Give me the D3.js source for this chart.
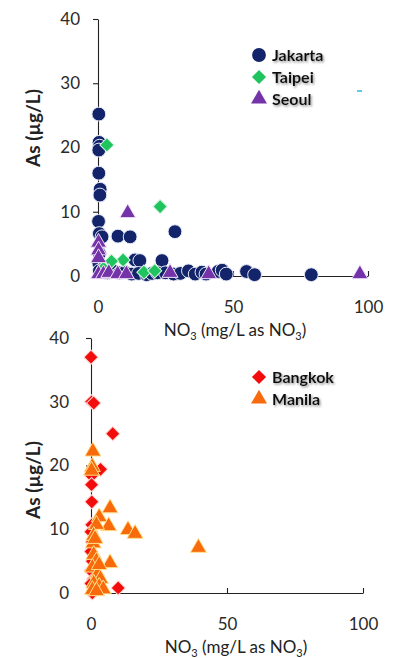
<!DOCTYPE html>
<html>
<head>
<meta charset="utf-8">
<script src="https://cdn.jsdelivr.net/npm/d3@7"></script>
<style>
  html, body { margin: 0; padding: 0; background: #fff; }
  svg { display: block; font-family: Lato, "Open Sans", sans-serif; }
  .tick text { fill: #2a2a2a; font-size: 17px; }
  .legend text { font-weight: 700; font-size: 16px; fill: #111; }
</style>
</head>
<body>
<svg id="chart" width="397" height="658"></svg>
<script>
// ---- Upper panel: Jakarta, Taipei, Seoul (NO3 mg/L, As µg/L) ----
const jakartaNO3 = [0.3, 0.4, 0.6, 0.3, 0.3, 0.8, 0.7, 0.2, 0.5, 1.5, 7.4, 11.9, 28.5, 13.7, 15.5, 23.7, 0.3, 2.2, 0.5, 0.5, 3.5, 5, 8, 10, 12.5, 15, 18, 20, 22, 25, 28, 30.5, 33.5, 36, 38.5, 40, 44.5, 46, 47.5, 55, 58, 79];
const jakartaAs  = [25.2, 20.8, 20.2, 19.6, 16, 13.5, 12.6, 8.5, 6.6, 6.1, 6.2, 6.1, 6.9, 2.5, 2.4, 2.4, 2, 1.3, 3.5, 0.8, 0.5, 1, 0.5, 0.6, 0.3, 0.4, 0.2, 0.4, 0.5, 0.5, 0.3, 0.4, 0.8, 0.3, 0.6, 0.3, 0.7, 0.9, 0.3, 0.7, 0.2, 0.2];
const taipeiNO3  = [3.3, 23, 9.3, 5, 2, 17, 21];
const taipeiAs   = [20.4, 10.8, 2.5, 2.3, 1.2, 0.6, 0.8];
const seoulNO3   = [11, 0.2, 0.2, 0.2, 0.2, 2, 4, 7.3, 10.5, 26.7, 41, 97];
const seoulAs    = [9.8, 5.2, 4, 2.8, 0.3, 0.3, 0.5, 0.3, 0.3, 0.5, 0.3, 0.3];

// ---- Lower panel: Bangkok, Manila ----
const bangkokNO3 = [0, 0.2, 1, 8, 3.5, 0.2, 0.2, 0.3, 0.3, 0, 0.5, 0, 0.5, 0, 1, 0, 10, 0.5];
const bangkokAs  = [37, 30, 29.8, 25, 19.4, 18.4, 17, 14.3, 10.7, 9.6, 8, 6.5, 5, 3.5, 2.2, 1.5, 0.8, 0];
const manilaNO3  = [0.7, 0.5, 0.2, 7, 3, 6.5, 13.6, 16.2, 39.5, 7, 2, 1, 0.8, 1, 2, 0.5, 2.5, 3.5, 1, 3, 0.5, 4.5, 1.5, 3, 2];
const manilaAs   = [22.2, 19.8, 19.2, 13.3, 11.9, 10.5, 9.9, 9.3, 7.1, 4.7, 10.7, 9, 7.8, 6, 5, 4, 3, 2.2, 1.5, 1, 0.5, 0.6, 8.5, 4.4, 0.3];

const xTicks = [0, 50, 100];
const yTicks = [0, 10, 20, 30, 40];

const svg = d3.select("#chart");

// soft text shadow used by the legend labels
const defs = svg.append("defs");
const sh = defs.append("filter").attr("id", "shadow").attr("x", "-20%").attr("y", "-30%").attr("width", "150%").attr("height", "170%");
sh.append("feDropShadow").attr("dx", 1.2).attr("dy", 1.5).attr("stdDeviation", 1.1).attr("flood-color", "#777").attr("flood-opacity", 0.8);

const diamond = d3.symbol().type(d3.symbolSquare).size(100)();
const circle = d3.symbol().type(d3.symbolCircle).size(150)();
const triangle = d3.symbol().type(d3.symbolTriangle).size(110)();

const styles = {
  Jakarta: { path: circle, fill: "#13246a", stroke: "#e8ecf6", rot: 0 },
  Taipei:  { path: diamond, fill: "#1fc45e", stroke: "#d8f5e2", rot: 45 },
  Seoul:   { path: triangle, fill: "#7433a8", stroke: "#efe3f8", rot: 0 },
  Bangkok: { path: diamond, fill: "#f20c0c", stroke: "#ffd6d0", rot: 45 },
  Manila:  { path: triangle, fill: "#f86a0c", stroke: "#ffe08a", rot: 0 }
};

function panel(cfg) {
  const x = d3.scaleLinear().domain([0, 100]).range(cfg.xRange);
  const y = d3.scaleLinear().domain([0, 40]).range(cfg.yRange);
  const g = svg.append("g");

  // y axis, ticks outward
  const ya = g.append("g").attr("transform", `translate(${x(0)},0)`)
    .call(d3.axisLeft(y).tickValues(yTicks).tickSize(5).tickPadding(cfg.yPad).tickSizeOuter(0));
  // x axis, ticks pointing up into the plot
  const xa = g.append("g").attr("transform", `translate(0,${y(0)})`)
    .call(d3.axisBottom(x).tickValues(xTicks).tickSize(-5).tickPadding(22).tickSizeOuter(0));
  [ya, xa].forEach(a => {
    a.select(".domain").attr("stroke", "#222").attr("stroke-width", 1.1);
    a.selectAll(".tick line").attr("stroke", "#222").attr("stroke-width", 1.1);
    a.selectAll(".tick text").style("font-family", "Lato, sans-serif");
  });
  xa.selectAll(".tick text").attr("dy", "0.32em").attr("y", 10 + 22);

  // axis titles
  const xt = g.append("text").attr("x", cfg.xTitle[0]).attr("y", cfg.xTitle[1])
    .attr("text-anchor", "middle").attr("font-size", 17).attr("fill", "#222");
  xt.append("tspan").text("NO");
  xt.append("tspan").attr("font-size", 11).attr("dy", 4).text("3");
  xt.append("tspan").attr("dy", -4).text(" (mg/L as NO");
  xt.append("tspan").attr("font-size", 11).attr("dy", 4).text("3");
  xt.append("tspan").attr("dy", -4).text(")");

  g.append("text")
    .attr("transform", `translate(${cfg.yTitle[0]},${cfg.yTitle[1]}) rotate(-90)`)
    .attr("text-anchor", "middle").attr("font-size", 19).attr("font-weight", 700).attr("fill", "#222")
    .text("As (µg/L)");

  // scatter series, drawn in order so later series sit on top
  cfg.series.forEach(s => {
    const st = styles[s.name];
    const pts = s.xs.map((v, i) => [v, s.ys[i]]);
    g.append("g").selectAll("path").data(pts).join("path")
      .attr("d", st.path)
      .attr("transform", d => `translate(${x(d[0])},${y(d[1])}) rotate(${st.rot})`)
      .attr("fill", st.fill).attr("stroke", st.stroke).attr("stroke-width", 1);
  });

  // legend
  const lg = g.append("g").attr("class", "legend");
  cfg.series.forEach((s, i) => {
    const st = styles[s.name];
    const row = lg.append("g").attr("transform", `translate(${cfg.legend[0]},${cfg.legend[1] + i * 22})`);
    row.append("path").attr("d", st.path).attr("transform", `rotate(${st.rot})`)
      .attr("fill", st.fill);
    row.append("text").attr("x", 13).attr("dy", "0.35em").attr("filter", "url(#shadow)").text(s.name);
  });
}

panel({
  xRange: [98, 368], yRange: [276, 19], yPad: 13,
  xTitle: [235, 336], yTitle: [40, 128], legend: [259, 55],
  series: [
    { name: "Jakarta", xs: jakartaNO3, ys: jakartaAs },
    { name: "Taipei", xs: taipeiNO3, ys: taipeiAs },
    { name: "Seoul", xs: seoulNO3, ys: seoulAs }
  ]
});

panel({
  xRange: [91, 363], yRange: [593, 338], yPad: 17,
  xTitle: [236, 653], yTitle: [40, 480], legend: [259, 377],
  series: [
    { name: "Bangkok", xs: bangkokNO3, ys: bangkokAs },
    { name: "Manila", xs: manilaNO3, ys: manilaAs }
  ]
});

// small cyan dash at the right of the upper panel
svg.append("line").attr("x1", 357).attr("x2", 362).attr("y1", 91).attr("y2", 91)
  .attr("stroke", "#2ab8e0").attr("stroke-width", 1.5);
</script>
</body>
</html>
